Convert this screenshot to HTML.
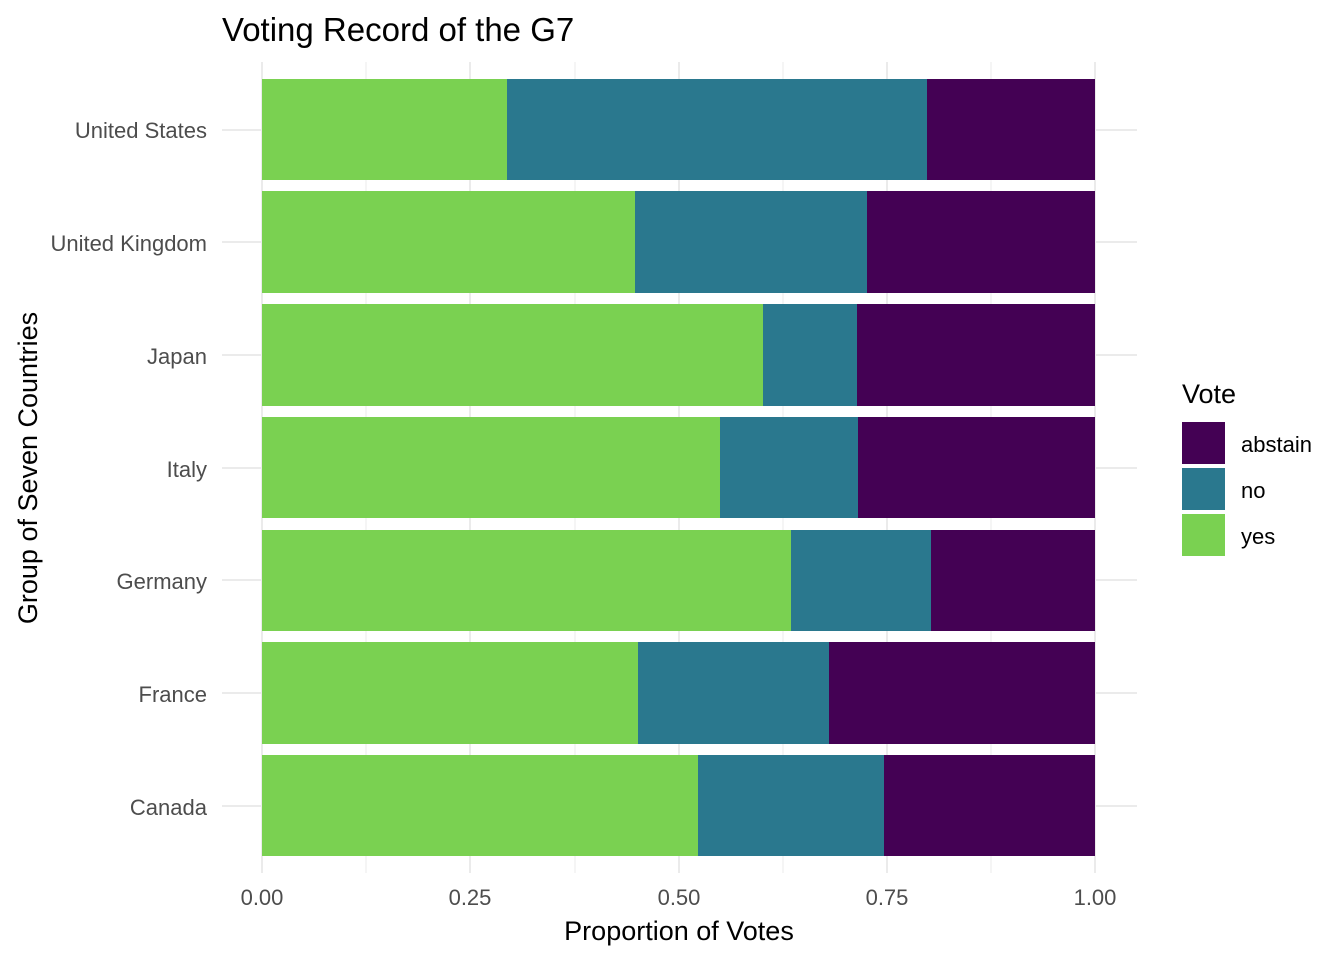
<!DOCTYPE html>
<html><head><meta charset="utf-8"><style>body{margin:0;background:#fff}svg{display:block}text{font-family:"Liberation Sans",sans-serif}</style></head>
<body>
<svg width="1344" height="960" viewBox="0 0 1344 960" xmlns="http://www.w3.org/2000/svg">
<rect width="1344" height="960" fill="#fff"/>
<g stroke="#ebebeb" stroke-width="1">
<line x1="366" y1="62" x2="366" y2="873"/><line x1="575" y1="62" x2="575" y2="873"/><line x1="783" y1="62" x2="783" y2="873"/><line x1="991" y1="62" x2="991" y2="873"/>
</g>
<g stroke="#ebebeb" stroke-width="2">
<line x1="262" y1="62" x2="262" y2="873"/><line x1="470" y1="62" x2="470" y2="873"/><line x1="679" y1="62" x2="679" y2="873"/><line x1="887" y1="62" x2="887" y2="873"/><line x1="1095" y1="62" x2="1095" y2="873"/>
<line x1="222" y1="130" x2="1137" y2="130"/><line x1="222" y1="242" x2="1137" y2="242"/><line x1="222" y1="355" x2="1137" y2="355"/><line x1="222" y1="468" x2="1137" y2="468"/><line x1="222" y1="580" x2="1137" y2="580"/><line x1="222" y1="693" x2="1137" y2="693"/><line x1="222" y1="806" x2="1137" y2="806"/>
</g>
<g>
<rect x="262" y="79" width="245" height="101" fill="#7AD151"/><rect x="507" y="79" width="420" height="101" fill="#2A788E"/><rect x="927" y="79" width="168" height="101" fill="#440154"/>
<rect x="262" y="191" width="373" height="102" fill="#7AD151"/><rect x="635" y="191" width="232" height="102" fill="#2A788E"/><rect x="867" y="191" width="228" height="102" fill="#440154"/>
<rect x="262" y="304" width="501" height="102" fill="#7AD151"/><rect x="763" y="304" width="94" height="102" fill="#2A788E"/><rect x="857" y="304" width="238" height="102" fill="#440154"/>
<rect x="262" y="417" width="458" height="101" fill="#7AD151"/><rect x="720" y="417" width="138" height="101" fill="#2A788E"/><rect x="858" y="417" width="237" height="101" fill="#440154"/>
<rect x="262" y="530" width="529" height="101" fill="#7AD151"/><rect x="791" y="530" width="140" height="101" fill="#2A788E"/><rect x="931" y="530" width="164" height="101" fill="#440154"/>
<rect x="262" y="642" width="376" height="102" fill="#7AD151"/><rect x="638" y="642" width="191" height="102" fill="#2A788E"/><rect x="829" y="642" width="266" height="102" fill="#440154"/>
<rect x="262" y="755" width="436" height="101" fill="#7AD151"/><rect x="698" y="755" width="186" height="101" fill="#2A788E"/><rect x="884" y="755" width="211" height="101" fill="#440154"/>
</g>
<g font-size="22" fill="#4d4d4d" text-anchor="end">
<text x="207" y="138">United States</text><text x="207" y="251">United Kingdom</text><text x="207" y="364">Japan</text><text x="207" y="477">Italy</text><text x="207" y="589">Germany</text><text x="207" y="702">France</text><text x="207" y="815">Canada</text>
</g>
<g font-size="22" fill="#4d4d4d" text-anchor="middle">
<text x="262" y="905">0.00</text><text x="470" y="905">0.25</text><text x="679" y="905">0.50</text><text x="887" y="905">0.75</text><text x="1095" y="905">1.00</text>
</g>
<text x="679" y="940" font-size="27" text-anchor="middle" fill="#000">Proportion of Votes</text>
<text transform="translate(37,468) rotate(-90)" font-size="27" text-anchor="middle" fill="#000">Group of Seven Countries</text>
<text x="222" y="41" font-size="33" fill="#000">Voting Record of the G7</text>
<text x="1182" y="403" font-size="27" fill="#000">Vote</text>
<rect x="1182" y="422" width="43" height="42" fill="#440154"/>
<rect x="1182" y="468" width="43" height="42" fill="#2A788E"/>
<rect x="1182" y="514" width="43" height="42" fill="#7AD151"/>
<g font-size="22" fill="#000"><text x="1241" y="452">abstain</text><text x="1241" y="498">no</text><text x="1241" y="544">yes</text></g>
</svg>
</body></html>
